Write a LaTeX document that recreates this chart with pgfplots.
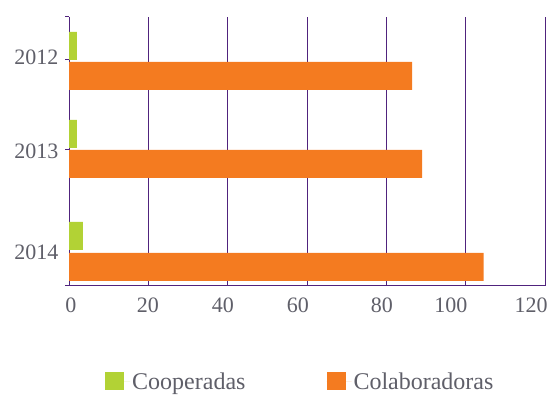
\documentclass[border=0pt]{standalone}
\usepackage{fontspec}
\setmainfont{Liberation Serif}
\usepackage{pgfplots}
\pgfplotsset{compat=1.18}
\definecolor{coop}{RGB}{178,210,53}
\definecolor{colab}{RGB}{244,123,32}
\definecolor{gridc}{RGB}{80,35,125}
\definecolor{txt}{RGB}{95,95,105}
\begin{document}
\begin{tikzpicture}[x=1pt,y=1pt]
\useasboundingbox (0,0) rectangle (548,395);
\begin{axis}[
  at={(69pt,109pt)}, anchor=south west,
  scale only axis, width=476pt, height=269pt,
  xmin=0, xmax=120, ymin=0, ymax=269,
  axis lines*=left,
  axis line style={gridc, line width=1pt},
  xtick={0.5,19.9,38.8,57.7,78.9,96.3,116.5},
  xticklabels={0,20,40,60,80,100,120},
  xtick style={draw=none},
  ytick={0,136,226,269}, yticklabels={},
  ytick style={gridc, line width=1pt},
  tick align=outside,
  major tick length=4pt,
  extra x ticks={0,20,40,60,80,100,120},
  extra x tick labels={},
  extra x tick style={xmajorgrids=true, grid style={gridc, line width=1pt}, major tick length=0pt},
  extra y ticks={229,135,34},
  extra y tick labels={2012,2013,2014},
  extra y tick style={major tick length=0pt},
  /pgf/number format/assume math mode=true,
  tick label style={text=txt, font=\fontsize{22}{25}\selectfont},
  xticklabel style={yshift=-4pt},
  yticklabel style={xshift=-7pt},
  legend style={at={(0.486,-0.355)}, anchor=center, draw=none,
    font=\fontsize{24}{28}\selectfont, text=txt,
    /tikz/every even column/.append style={column sep=79pt}},
  legend columns=2,
  legend image code/.code={\fill[#1] (0pt,-9pt) rectangle (19pt,9pt); \path (0pt,0pt) -- (25pt,0pt);},
]
\addplot[xbar, bar shift=0pt, bar width=28, fill=coop, draw=none]
  coordinates {(2,240) (2,152) (3.5,50)};
\addplot[xbar, bar shift=0pt, bar width=28, fill=colab, draw=none]
  coordinates {(86.5,210) (89,122) (104.5,19)};
\legend{Cooperadas, Colaboradoras}
\end{axis}
\end{tikzpicture}
\end{document}
